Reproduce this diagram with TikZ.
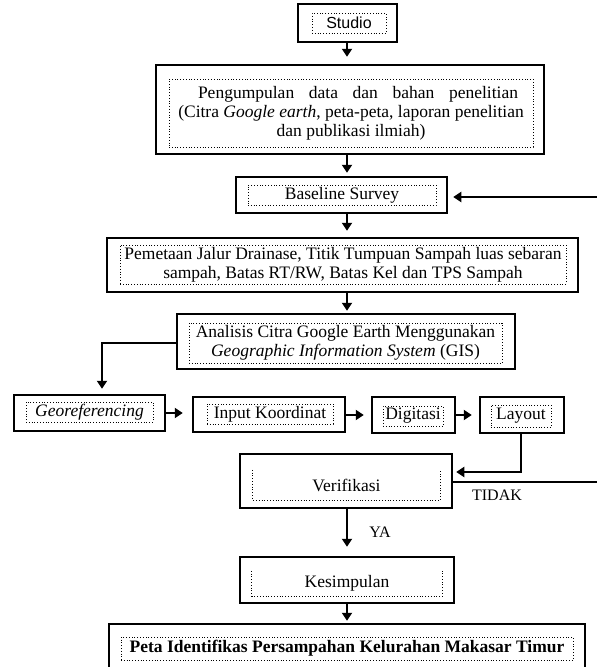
\documentclass[tikz,border=0pt]{standalone}
\usepackage{fontspec}
\setmainfont{Liberation Serif}
\newfontfamily\arialfont{Liberation Sans}
\usetikzlibrary{arrows.meta}
\begin{document}
\begin{tikzpicture}[x=1pt,y=-1pt,
  ob/.style={draw, line width=2.5pt, inner sep=0pt},
  ib/.style={draw, line width=0.8pt, dotted, inner sep=0pt, align=center, font=\fontsize{17.5}{19}\selectfont},
  it/.style={inner sep=0pt, align=center, font=\fontsize{17.5}{19}\selectfont},
  arr/.style={line width=2.2pt, -{Triangle[length=8pt,width=10pt]}},
  ln/.style={line width=2.2pt},
  lbl/.style={inner sep=0pt, font=\fontsize{16}{18}\selectfont}]
\useasboundingbox (0,0) rectangle (597,667);
\coordinate (axis) at (347,0);
% Studio
\node[ob, minimum width=99pt, minimum height=38pt] (studio) at (347.5,23) {};
\node[ib, minimum width=74pt, minimum height=20pt, font=\arialfont\fontsize{16}{18}\selectfont] (studiot) at (349,23) {Studio};
% Pengumpulan
\node[ob, minimum width=388pt, minimum height=89pt] (peng) at (350,109.5) {};
\node[ib, minimum width=364pt, minimum height=68pt] (pengt) at (351,113) {\hspace*{14pt}\makebox[320pt][s]{Pengumpulan data dan bahan penelitian}\\(Citra \textit{Google earth}, peta-peta, laporan penelitian\\dan publikasi ilmiah)};
% Baseline
\node[ob, minimum width=211pt, minimum height=36pt] (base) at (341.5,195) {};
\node[ib, minimum width=188pt, minimum height=20pt] (baset) at (342,195) {Baseline Survey};
% Pemetaan
\node[ob, minimum width=471pt, minimum height=54pt] (pem) at (342.5,265) {};
\node[ib, minimum width=446pt, minimum height=39pt] (pemt) at (343,264.5) {Pemetaan Jalur Drainase, Titik Tumpuan Sampah luas sebaran\\sampah, Batas RT/RW, Batas Kel dan TPS Sampah};
% Analisis
\node[ob, minimum width=338pt, minimum height=55pt] (ana) at (346,341.5) {};
\node[ib, minimum width=313pt, minimum height=40pt] (anat) at (345.5,343) {Analisis Citra Google Earth Menggunakan\\\textit{Geographic Information System} (GIS)};
% Row
\node[ob, minimum width=151pt, minimum height=36pt] (geo) at (89.5,413) {};
\node[ib, minimum width=127pt, minimum height=20pt] (geot) at (89.5,412) {\textit{Georeferencing}};
\node[ob, minimum width=152pt, minimum height=35pt] (inp) at (269,414.5) {};
\node[ib, minimum width=126pt, minimum height=20pt] (inpt) at (270,414) {Input Koordinat};
\node[ob, minimum width=83pt, minimum height=36pt] (dig) at (413.5,415) {};
\node[ib, minimum width=60pt, minimum height=20pt] (digt) at (413,416) {Digitasi};
\node[ob, minimum width=84pt, minimum height=36pt] (lay) at (522,415) {};
\node[ib, minimum width=60pt, minimum height=22pt] (layt) at (521,416) {Layout};
% Verifikasi
\node[ob, minimum width=212pt, minimum height=54pt] (ver) at (346,481) {};
\node[it, minimum width=187pt, minimum height=30pt] (vert) at (346.5,485) {Verifikasi};
\draw[line width=0.8pt, dotted] (vert.north west) -- (vert.south west) -- (vert.south east) -- (vert.north east);
% Kesimpulan
\node[ob, minimum width=214pt, minimum height=46pt] (kes) at (347,580) {};
\node[it, minimum width=190pt, minimum height=25pt] (kest) at (347,583.5) {Kesimpulan};
\draw[line width=0.8pt, dotted] (kest.north west) -- (kest.south west) -- (kest.south east) -- (kest.north east);
% Peta
\node[ob, minimum width=476pt, minimum height=66pt] (peta) at (347,657) {};
\node[ib, minimum width=452pt, minimum height=23pt] (petat) at (347,648.5) {\textbf{Peta Identifikas Persampahan Kelurahan Makasar Timur}};
% vertical arrows
\draw[arr, shorten >=7pt] (studio.south -| axis) -- (peng.north -| axis);
\draw[arr, shorten >=3pt] (peng.south -| axis) -- (base.north -| axis);
\draw[arr, shorten >=6pt] (base.south -| axis) -- (pem.north -| axis);
\draw[arr, shorten >=2pt] (pem.south -| axis) -- (ana.north -| axis);
\coordinate (ag) at (102,343);
\draw[arr, shorten >=5pt] (ana.west |- ag) -| (ag |- geo.north);
\draw[arr, shorten >=9pt] (geo.east) -- (geo.east -| inp.west);
\draw[arr, shorten >=7pt] (inp.east |- dig) -- (dig.west);
\draw[arr, shorten >=7pt] (dig.east) -- (lay.west);
\coordinate (lv) at (521,472);
\draw[arr, shorten >=3pt] (lay.south -| lv) |- (ver.east |- lv);
\draw[arr, shorten >=9pt] (ver.south -| axis) -- (kes.north -| axis);
\draw[arr, shorten >=2pt] (kes.south -| axis) -- (peta.north -| axis);
% feedback
\coordinate (fbt) at (602,197);
\coordinate (fbb) at (602,482);
\draw[ln] (ver.east |- fbb) -- (fbb) -- (fbt);
\draw[arr, shorten >=5pt] (fbt) -- (base.east |- fbt);
% labels
\node[lbl] (tidak) at (497,495) {TIDAK};
\node[lbl] (ya) at (380,532) {YA};
\end{tikzpicture}
\end{document}
